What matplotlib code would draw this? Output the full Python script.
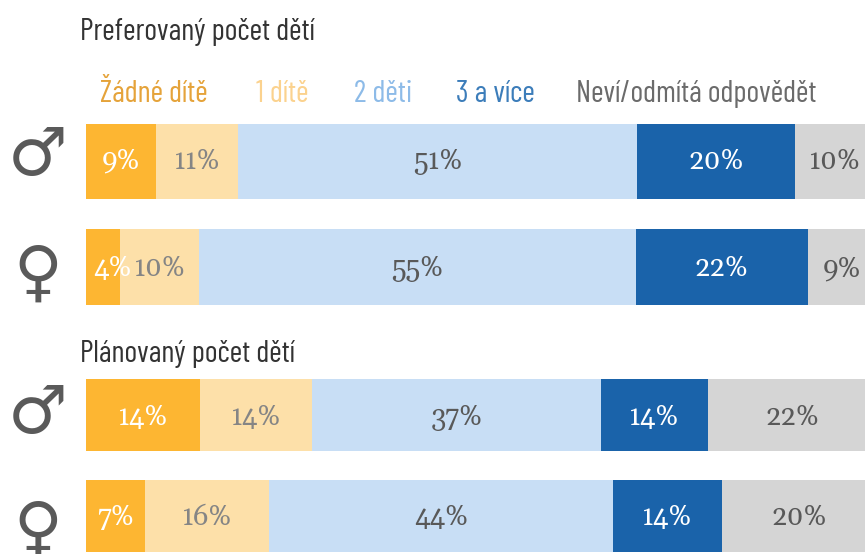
import matplotlib
matplotlib.use("Agg")
import matplotlib.pyplot as plt
import numpy as np

W, H = 865, 554

series_names = ["Žádné dítě", "1 dítě", "2 děti", "3 a více", "Neví/odmítá odpovědět"]
# preferred men, preferred women, planned men, planned women
zadne = [9.0, 4.4, 14.6, 7.5]
jedno = [10.5, 10.0, 14.3, 15.9]
dve = [51.0, 55.9, 36.9, 44.0]
tri = [20.2, 22.0, 13.7, 13.9]
nevi = [10.2, 8.8, 21.7, 19.7]
values = [zadne, jedno, dve, tri, nevi]

labels = [
    ["9%", "4%", "14%", "7%"],
    ["11%", "10%", "14%", "16%"],
    ["51%", "55%", "37%", "44%"],
    ["20%", "22%", "14%", "14%"],
    ["10%", "9%", "22%", "20%"],
]
symbols = ["♂", "♀", "♂", "♀"]

bar_colors = ["#FDB632", "#FDE0A9", "#C8DEF5", "#1A63AA", "#D5D5D5"]
value_colors = ["white", "#858585", "#595959", "white", "#595959"]
name_colors = ["#E5A33A", "#FBD28E", "#8DBBE8", "#3C7DBA", "#6B6B6B"]
name_x = [100, 256, 354, 456, 576]

row_y = [161, 266.5, 415, 515.5]
row_h = [75, 76, 71.5, 72]
symbol_y = [156, 274.5, 414, 530.5]
label_dy = [0, -1.5, -1.5, -1]

narrow = ["Barlow Condensed", "Roboto Condensed", "Roboto", "DejaVu Sans"]
slab = ["Gelasio", "Crete Round", "Liberation Serif", "DejaVu Serif"]

fig = plt.figure(figsize=(W / 100, H / 100), dpi=100)
# axes run past the right edge, the last bars are cut off by the figure
ax = fig.add_axes([86 / W, 0, 800 / W, 1])
ax.set_xlim(0, 800 / 7.82)
ax.set_ylim(H, 0)
ax.axis("off")

left = np.zeros(4)
for i, vals in enumerate(values):
    bars = ax.barh(row_y, vals, height=row_h, left=left, color=bar_colors[i], linewidth=0)
    texts = ax.bar_label(bars, labels=labels[i], label_type="center", color=value_colors[i],
                         fontsize=20, family=slab)
    for t, dy in zip(texts, label_dy):
        t.xyann = (0, dy)
    # the 4% label sits off centre in the original
    if i == 0:
        texts[1].xyann = (7, label_dy[1])
    left = left + np.array(vals)


def put(x, y, s, **kw):
    fig.text(x / W, 1 - y / H, s, va="center", **kw)


put(80, 32.5, "Preferovaný počet dětí", fontsize=22, color="#333333", family=narrow)
put(80, 354, "Plánovaný počet dětí", fontsize=22, color="#333333", family=narrow)
for x, name, c in zip(name_x, series_names, name_colors):
    put(x, 94, name, fontsize=22, color=c, family=narrow)

for y, s in zip(symbol_y, symbols):
    put(38, y, s, fontsize=48, color="#5A5A5A", ha="center", family="DejaVu Sans")

fig.savefig("out.png", dpi=100)
